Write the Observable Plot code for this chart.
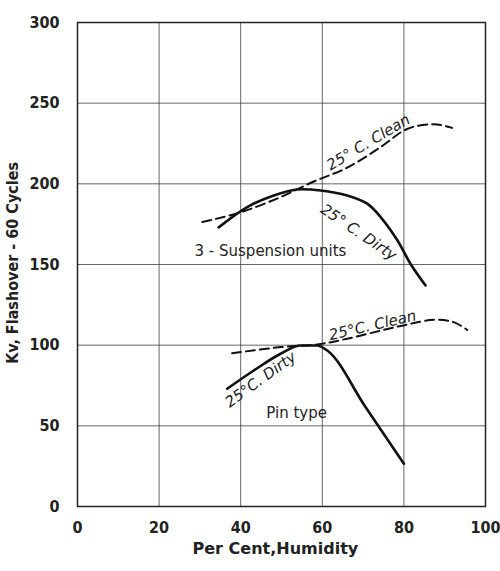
<!DOCTYPE html>
<html>
<head>
<meta charset="utf-8">
<script src="https://cdn.jsdelivr.net/npm/d3@7"></script>
<script src="https://cdn.jsdelivr.net/npm/@observablehq/plot@0.6"></script>
<style>
  body { margin: 0; background: #fff; }
</style>
</head>
<body>
<div id="chart"></div>
<script>
// Suspension units, 25°C clean (dashed)
const suspCleanX = [30.6, 40, 49.8, 57.5, 66.1, 74.3, 80.8, 87.3, 91.8];
const suspCleanY = [176.3, 182.4, 191.8, 201, 210, 222.8, 234, 237, 234.7];
// Suspension units, 25°C dirty (solid)
const suspDirtyX = [34.6, 41.6, 48.1, 53.8, 59.6, 66.1, 71, 74.3, 78.4, 81.6, 85.3];
const suspDirtyY = [173, 185.6, 192.8, 196.5, 195.9, 192.8, 187.7, 179.4, 165, 150.5, 137];
// Pin type, 25°C clean (dashed)
const pinCleanX = [37.9, 49.8, 58.7, 66.1, 74.3, 80.8, 87.3, 92.2, 95.5];
const pinCleanY = [95, 98.8, 100.4, 104, 109, 112.8, 115.7, 114.3, 109.5];
// Pin type, 25°C dirty (solid)
const pinDirtyX = [36.7, 43.2, 49.8, 54.7, 58.7, 61.3, 70.5, 80];
const pinDirtyY = [73, 84.3, 94.7, 99.8, 99.8, 96.5, 62, 26.5];

const xTicks = [0, 20, 40, 60, 80, 100];
const yTicks = [0, 50, 100, 150, 200, 250, 300];
const xTitle = "Per Cent,Humidity";
const yTitle = "Kv, Flashover - 60 Cycles";

// Annotation labels
const labelText = ["25° C. Clean", "25° C. Dirty", "3 - Suspension units", "25°C. Clean", "25°C. Dirty", "Pin type"];
const labelX = [71.3, 68.9, 47.3, 72.3, 44.9, 53.7];
const labelY = [225.7, 169.9, 158.1, 112.2, 78.7, 57.7];
const labelRotate = [-31, 34, 0, -13, -36, 0];
const labelItalic = [true, true, false, true, true, false];

const toPts = (xs, ys) => xs.map((x, i) => ({x, y: ys[i]}));
const labels = labelText.map((t, i) => ({t, x: labelX[i], y: labelY[i], r: labelRotate[i], it: labelItalic[i]}));

const chart = Plot.plot({
  width: 500,
  height: 571,
  marginTop: 22,
  marginBottom: 65,
  marginLeft: 77,
  marginRight: 15,
  style: {fontFamily: "'DejaVu Sans Condensed', 'DejaVu Sans', sans-serif", fontSize: "16px", fontWeight: "bold", color: "#222", background: "#fff"},
  x: {domain: [0, 100], ticks: xTicks, tickSize: 0, tickPadding: 15, label: null},
  y: {domain: [0, 300], ticks: yTicks, tickSize: 0, tickPadding: 18, label: null},
  marks: [
    Plot.gridX(xTicks, {stroke: "#333", strokeOpacity: 0.75, strokeWidth: 1}),
    Plot.gridY(yTicks, {stroke: "#333", strokeOpacity: 0.75, strokeWidth: 1}),
    Plot.frame({stroke: "#222", strokeWidth: 1.5}),
    Plot.line(toPts(suspCleanX, suspCleanY), {x: "x", y: "y", curve: "catmull-rom", stroke: "#111", strokeWidth: 2, strokeDasharray: "9,5"}),
    Plot.line(toPts(suspDirtyX, suspDirtyY), {x: "x", y: "y", curve: "catmull-rom", stroke: "#111", strokeWidth: 2.6}),
    Plot.line(toPts(pinCleanX, pinCleanY), {x: "x", y: "y", curve: "catmull-rom", stroke: "#111", strokeWidth: 2, strokeDasharray: "9,5"}),
    Plot.line(toPts(pinDirtyX, pinDirtyY), {x: "x", y: "y", curve: "monotone-x", stroke: "#111", strokeWidth: 2.6}),
    ...labels.map(d => Plot.text([d], {x: "x", y: "y", text: "t", rotate: d.r, fontSize: 15, fontWeight: "normal", fontStyle: d.it ? "italic" : "normal", fontFamily: "'DejaVu Sans', sans-serif", fill: "#222"})),
    Plot.text([{t: xTitle, x: 48.5, y: -26.5}], {x: "x", y: "y", text: "t", fontSize: 16, fontWeight: "bold", fontFamily: "'DejaVu Sans', sans-serif", fill: "#222", clip: false}),
    Plot.text([{t: yTitle, x: -15.8, y: 151}], {x: "x", y: "y", text: "t", rotate: -90, fontSize: 16, fontWeight: "bold", fill: "#222", clip: false})
  ]
});
document.getElementById("chart").appendChild(chart);
</script>
</body>
</html>
